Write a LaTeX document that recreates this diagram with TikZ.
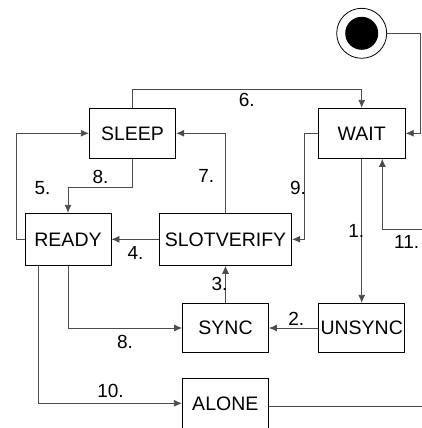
\documentclass[tikz,border=0pt]{standalone}
\usepackage{fontspec}
\setmainfont{Liberation Sans}
\usetikzlibrary{arrows.meta}
\tikzset{
  state/.style={draw=black, line width=0.9pt, rectangle, inner sep=0pt, minimum height=50pt, font=\fontsize{19.5}{23}\selectfont},
  conn/.style={draw=black!70, line width=0.8pt},
  arr/.style={conn, -{Latex[length=8pt,width=7pt]}},
  lbl/.style={inner sep=0pt, font=\fontsize{19}{23}\selectfont}
}
\begin{document}
\begin{tikzpicture}[x=1pt,y=-1pt]
\useasboundingbox (0,0) rectangle (422,428);
\clip (0,0) rectangle (422,428);
% initial state
\node[circle, draw=black, line width=0.8pt, minimum size=50pt, inner sep=0pt] (init) at (361.7,33.3) {};
\fill[black] (init.center) circle (16.5pt);
% states
\node[state, minimum width=86.4pt] (sleep) at (132.5,133.3) {SLEEP};
\node[state, minimum width=87pt] (wait) at (361.7,133.3) {WAIT};
\node[state, minimum width=86pt, minimum height=52pt] (ready) at (68,239.3) {READY};
\node[state, minimum width=132.4pt, minimum height=52pt] (slot) at (225.5,239.3) {SLOTVERIFY};
\node[state, minimum width=86pt, minimum height=49.4pt] (sync) at (225.5,328) {SYNC};
\node[state, minimum width=86pt, minimum height=49.4pt] (unsync) at (361.7,328) {UNSYNC};
\node[state, minimum width=86pt] (alone) at (225.3,403.3) {ALONE};
\coordinate (in11) at (422,229.3);
\coordinate (out) at (422,406);
% connectors
\draw[arr] (init.east) -- ++(33.3,0) |- (wait.east);
\draw[arr] (sleep.north) -- ++(0,-18.3) -| (wait.north);
\draw[arr] (ready.west) -- ++(-8.3,0) |- (sleep.west);
\draw[arr] (sleep.south) -- ++(0,28.4) -| (ready.north);
\draw[arr] (slot.north) |- (sleep.east);
\draw[arr] (wait.west) -- ++(-13.3,0) |- (slot.east);
\draw[arr] (slot.west) -- (ready.east);
\draw[arr] (wait.south) -- (unsync.north);
\draw[arr] (in11) -| ([xshift=20.6pt]wait.south);
\draw[arr] (sync.north) -- (slot.south);
\draw[arr] (unsync.west) -- (sync.east);
\draw[arr] (ready.south) |- (sync.west);
\draw[arr] ([xshift=-29.7pt]ready.south) |- (alone.west);
\draw[conn] ([yshift=-2.7pt]alone.east) -- (out);
% labels
\node[lbl] (l6) at (246.7,100.3) {6.};
\node[lbl] (l5) at (42.5,188.3) {5.};
\node[lbl] (l8a) at (100.5,176.7) {8.};
\node[lbl] (l7) at (206.3,176.3) {7.};
\node[lbl] (l9) at (298,188) {9.};
\node[lbl] (l1) at (356.3,230.8) {1.};
\node[lbl] (l11) at (406.7,242) {11.};
\node[lbl] (l4) at (135.5,252.5) {4.};
\node[lbl] (l3) at (219.5,283.8) {3.};
\node[lbl] (l2) at (296.2,318.8) {2.};
\node[lbl] (l8b) at (125,341.7) {8.};
\node[lbl] (l10) at (110.5,390.8) {10.};
\end{tikzpicture}
\end{document}
